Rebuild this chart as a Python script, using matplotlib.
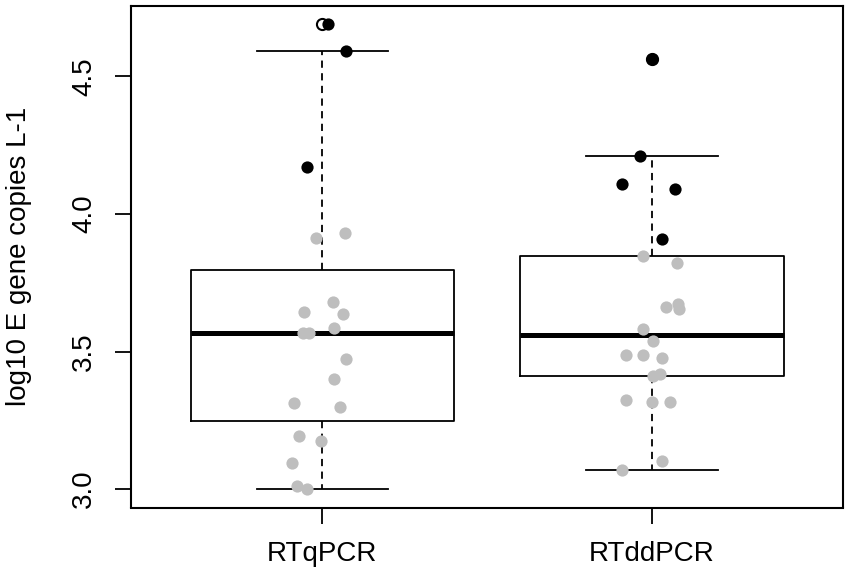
import numpy as np
import matplotlib.pyplot as plt

plt.rcParams['font.family'] = ['Liberation Sans', 'DejaVu Sans']

groups = ['RTqPCR', 'RTddPCR']

# values, x = jittered position as drawn
qpcr_black = [4.690, 4.594, 4.172]
qpcr_black_x = [1.017, 1.073, 0.954]
qpcr_grey = [3.930, 3.912, 3.679, 3.643, 3.636, 3.587, 3.568, 3.568, 3.474,
             3.400, 3.312, 3.299, 3.194, 3.175, 3.096, 3.012, 2.999]
qpcr_grey_x = [1.068, 0.979, 1.031, 0.944, 1.063, 1.036, 0.940, 0.960, 1.073,
               1.036, 0.913, 1.053, 0.929, 0.995, 0.907, 0.923, 0.953]

ddpcr_black = [4.564, 4.210, 4.109, 4.090, 3.910]
ddpcr_black_x = [2.000, 1.964, 1.910, 2.071, 2.030]
ddpcr_grey = [3.847, 3.823, 3.672, 3.661, 3.653, 3.581, 3.538, 3.486, 3.486,
              3.475, 3.418, 3.412, 3.325, 3.317, 3.316, 3.103, 3.069]
ddpcr_grey_x = [1.973, 2.076, 2.078, 2.043, 2.083, 1.973, 2.002, 1.920, 1.973,
                2.030, 2.024, 2.002, 1.920, 2.056, 2.000, 2.030, 1.910]

yticks = [3.0, 3.5, 4.0, 4.5]


def r_box_stats(vals, label):
    # same hinges/whiskers as R boxplot (fivenum, coef 1.5)
    v = np.sort(np.asarray(vals))
    n = len(v)
    n4 = np.floor((n + 3) / 2) / 2
    d = np.array([1, n4, (n + 1) / 2, n + 1 - n4, n]) - 1
    f = 0.5 * (v[np.floor(d).astype(int)] + v[np.ceil(d).astype(int)])
    iqr = f[3] - f[1]
    inside = v[(v >= f[1] - 1.5 * iqr) & (v <= f[3] + 1.5 * iqr)]
    return dict(label=label, q1=f[1], med=f[2], q3=f[3],
                whislo=inside.min(), whishi=inside.max(),
                fliers=v[(v < inside.min()) | (v > inside.max())])


stats = [r_box_stats(qpcr_black + qpcr_grey, groups[0]),
         r_box_stats(ddpcr_black + ddpcr_grey, groups[1])]

fig = plt.figure(figsize=(8.51, 5.79), dpi=100)
ax = fig.add_axes([131 / 851, 1 - 507.5 / 579, 712 / 851, 502 / 579])

ax.bxp(stats, positions=[1, 2], widths=0.8, capwidths=0.4,
       boxprops=dict(color='black', lw=1.3),
       whiskerprops=dict(color='black', lw=1.3, linestyle=(0, (4, 3))),
       capprops=dict(color='black', lw=1.3),
       medianprops=dict(color='black', lw=3.6, solid_capstyle='butt'),
       flierprops=dict(marker='o', markersize=8, markerfacecolor='none',
                       markeredgecolor='black', markeredgewidth=1.5))

ax.plot(qpcr_grey_x, qpcr_grey, 'o', color='#bebebe', ms=8.8, mec='none', zorder=5)
ax.plot(ddpcr_grey_x, ddpcr_grey, 'o', color='#bebebe', ms=8.8, mec='none', zorder=5)
ax.plot(qpcr_black_x, qpcr_black, 'o', color='black', ms=8.8, mec='none', zorder=6)
ax.plot(ddpcr_black_x, ddpcr_black, 'o', color='black', ms=8.8, mec='none', zorder=6)

ax.set_xlim(0.419, 2.58)
ax.set_ylim(2.933, 4.758)
ax.set_xticks([1, 2], groups)
ax.set_yticks(yticks, ['%.1f' % t for t in yticks])
ax.tick_params(axis='both', length=11.5, width=1.3, labelsize=20)
ax.tick_params(axis='y', labelrotation=90, pad=13)
ax.tick_params(axis='x', pad=12.5)
for lab in ax.get_yticklabels():
    lab.set_va('center')

for sp in ax.spines.values():
    sp.set_linewidth(1.5)

ax.set_ylabel('log10 E gene copies L-1', fontsize=20)
ax.yaxis.label.set_va('center')
ax.yaxis.set_label_coords(-0.158, 0.5)

fig.savefig('out.png', dpi=100)
